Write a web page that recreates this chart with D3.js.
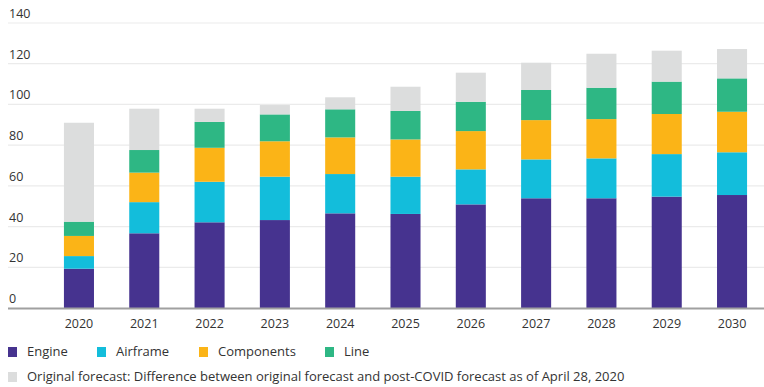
<!DOCTYPE html>
<html><head><meta charset="utf-8">
<script src="https://cdn.jsdelivr.net/npm/d3@7"></script>
<style>
html,body{margin:0;padding:0;background:#fff;}
svg{display:block;font-family:"Open Sans",sans-serif;}
</style></head>
<body><svg id="c" width="764" height="387"></svg>
<script>
const years = ["2020","2021","2022","2023","2024","2025","2026","2027","2028","2029","2030"];
const engine     = [19.3, 36.7, 42.1, 43.2, 46.5, 46.2, 50.9, 53.9, 53.9, 54.7, 55.5];
const airframe   = [ 6.2, 15.3, 19.9, 21.3, 19.3, 18.3, 17.2, 19.1, 19.6, 20.9, 21.0];
const components = [ 9.9, 14.5, 16.7, 17.4, 18.0, 18.3, 18.8, 19.3, 19.3, 19.7, 19.9];
const line       = [ 7.0, 11.1, 12.7, 13.2, 13.8, 14.0, 14.4, 14.8, 15.4, 15.9, 16.4];
const original   = [48.6, 20.3,  6.5,  4.6,  5.9, 11.9, 14.3, 13.4, 16.7, 15.2, 14.4];
const yTicks = [0, 20, 40, 60, 80, 100, 120, 140];
const seriesKeys = ["Engine","Airframe","Components","Line","Original"];
const seriesColors = ["#46338f","#13bddb","#fbb417","#2eb784","#dcdddd"];
const legendRow1 = ["Engine","Airframe","Components","Line"];
const legendRow2 = "Original forecast: Difference between original forecast and post-COVID forecast as of April 28, 2020";

const table = years.map((y,i)=>({year:y, Engine:engine[i], Airframe:airframe[i], Components:components[i], Line:line[i], Original:original[i]}));
const stacked = d3.stack().keys(seriesKeys)(table);

const svg = d3.select("#c");
const x = d3.scaleBand().domain(years).range([46.3, 764.7]).paddingInner(0.54).paddingOuter(0.27);
const y = d3.scaleLinear().domain([0,140]).range([308, 23]);
const color = d3.scaleOrdinal().domain(seriesKeys).range(seriesColors);

// grid
const grid = svg.append("g");
grid.selectAll("line").data(yTicks.filter(t=>t>0)).join("line")
  .attr("x1",8).attr("x2",764).attr("y1",d=>y(d)).attr("y2",d=>y(d))
  .attr("stroke","#ebebeb").attr("stroke-width",1.2);
grid.selectAll("text").data(yTicks).join("text")
  .attr("x",9).attr("y",d=>y(d)-5)
  .attr("font-size",12.5).attr("fill","#333").text(d=>d);

// bars
svg.append("g").selectAll("g").data(stacked).join("g")
  .attr("fill",d=>color(d.key))
  .selectAll("rect").data(d=>d).join("rect")
  .attr("x",d=>x(d.data.year)).attr("width",x.bandwidth())
  .attr("y",d=>y(d[1])).attr("height",d=>y(d[0])-y(d[1]));

// x axis
const xa = svg.append("g").attr("transform","translate(0,308)")
  .call(d3.axisBottom(x).tickSize(0).tickPadding(11));
xa.select(".domain").remove();
xa.selectAll("text").attr("font-size",12.5).attr("fill","#333").attr("font-family","Open Sans");
svg.append("line").attr("x1",8).attr("x2",764).attr("y1",308.5).attr("y2",308.5)
  .attr("stroke","#a0a0a0").attr("stroke-width",2);

// legend
const lx = [8, 97, 199, 325];
const lg = svg.append("g");
legendRow1.forEach((k,i)=>{
  lg.append("rect").attr("x",lx[i]).attr("y",347).attr("width",9).attr("height",10).attr("fill",color(k));
  lg.append("text").attr("x",lx[i]+19).attr("y",356).attr("font-size",13).attr("fill","#333").text(k);
});
lg.append("rect").attr("x",8).attr("y",372).attr("width",9).attr("height",10).attr("fill",color("Original"));
lg.append("text").attr("x",27).attr("y",381).attr("font-size",13).attr("fill","#333").text(legendRow2);
</script></body></html>
